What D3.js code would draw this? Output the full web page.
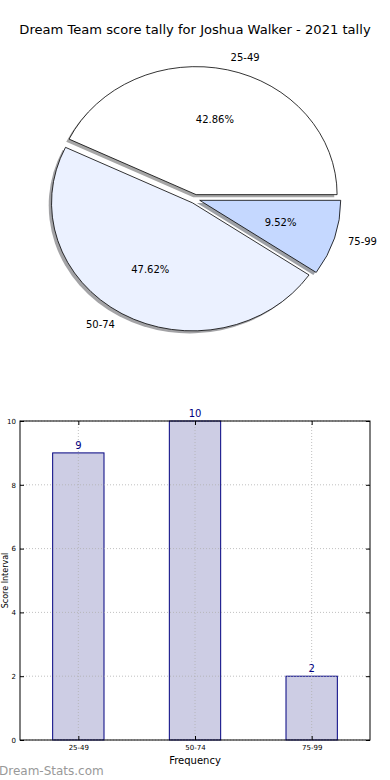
<!DOCTYPE html>
<html>
<head>
<meta charset="utf-8">
<script src="https://cdn.jsdelivr.net/npm/d3@7/dist/d3.min.js"></script>
<style>
  html, body { margin: 0; padding: 0; background: #fff; }
  svg { display: block; font-family: "DejaVu Sans", sans-serif; }
</style>
</head>
<body>
<svg id="chart" width="390" height="780"></svg>
<script>
// ---- data ----
const title = "Dream Team score tally for Joshua Walker - 2021 tally";
const categories = ["25-49", "50-74", "75-99"];
const counts = [9, 10, 2];
const sliceColors = ["#ffffff", "#ebf1ff", "#c5d8ff"];
const yTicks = [0, 2, 4, 6, 8, 10];
const xLabel = "Frequency";
const yLabel = "Score Interval";
const watermark = "Dream-Stats.com";

(function () {
const svg = d3.select("#chart");

// ---- title ----
svg.append("text").attr("x", 195).attr("y", 34).attr("text-anchor", "middle")
  .attr("font-size", 13.1).attr("fill", "#000").text(title);

// ---- pie ----
const cx = 195, cy = 199, rx = 141, ry = 128, explode = 0.035;
const R = 100;
const pie = d3.pie().sort(null).value(d => d)
  .startAngle(Math.PI / 2).endAngle(Math.PI / 2 - 2 * Math.PI);
const arcs = pie(counts);
const arc = d3.arc().innerRadius(0).outerRadius(R);
const total = d3.sum(counts);

function offset(a) {
  const m = (a.startAngle + a.endAngle) / 2;
  return [explode * rx * Math.sin(m), -explode * ry * Math.cos(m), Math.sin(m), -Math.cos(m)];
}

const gShadow = svg.append("g");
const gPie = svg.append("g");
arcs.forEach((a, i) => {
  const [ox, oy] = offset(a);
  const c = d3.rgb(sliceColors[i]);
  const sc = d3.rgb(c.r * 0.3, c.g * 0.3, c.b * 0.3);
  gShadow.append("path").attr("d", arc(a))
    .attr("transform", `translate(${cx + ox - 0.02 * rx},${cy + oy + 0.02 * ry}) scale(${rx / R},${ry / R})`)
    .attr("fill", sc).attr("fill-opacity", 0.5);
  gPie.append("path").attr("d", arc(a))
    .attr("transform", `translate(${cx + ox},${cy + oy}) scale(${rx / R},${ry / R})`)
    .attr("fill", sliceColors[i]).attr("stroke", "#000").attr("stroke-width", 0.8)
    .attr("vector-effect", "non-scaling-stroke").attr("stroke-linejoin", "round");
});
arcs.forEach((a, i) => {
  const [ox, oy, ux, uy] = offset(a);
  const px = cx + ox, py = cy + oy;
  const lx = px + 1.1 * rx * ux, ly = py + 1.1 * ry * uy;
  svg.append("text").attr("x", lx).attr("y", ly).attr("dy", "0.35em")
    .attr("text-anchor", ux > 0 ? "start" : "end").attr("font-size", 10)
    .text(categories[i]);
  svg.append("text").attr("x", px + 0.6 * rx * ux).attr("y", py + 0.6 * ry * uy).attr("dy", "0.35em")
    .attr("text-anchor", "middle").attr("font-size", 10)
    .text((a.value / total * 100).toFixed(2) + "%");
});

// ---- bar chart ----
const pl = 20, pr = 370, pt = 421, pb = 740;
const x = d3.scaleLinear().domain([-0.5, categories.length - 0.5]).range([pl, pr]);
const y = d3.scaleLinear().domain([0, 10]).range([pb, pt]);
const bw = 0.44;
const navy = "#000080";

const gBar = svg.append("g");
counts.forEach((v, i) => {
  gBar.append("rect")
    .attr("x", x(i - bw / 2)).attr("y", y(v))
    .attr("width", x(i + bw / 2) - x(i - bw / 2)).attr("height", y(0) - y(v))
    .attr("fill", "#cdcde4").attr("stroke", navy).attr("stroke-width", 1);
});

// grid
const gGrid = svg.append("g").attr("stroke", "#b0b0b0").attr("stroke-width", 0.8).attr("stroke-dasharray", "1,2");
yTicks.forEach(t => gGrid.append("line").attr("x1", pl).attr("x2", pr).attr("y1", y(t)).attr("y2", y(t)));
categories.forEach((c, i) => gGrid.append("line").attr("x1", x(i)).attr("x2", x(i)).attr("y1", pt).attr("y2", pb));

// value labels
counts.forEach((v, i) => {
  svg.append("text").attr("x", x(i)).attr("y", y(v) - 4).attr("text-anchor", "middle")
    .attr("font-size", 10).attr("fill", navy).text(v);
});

// axes with inward ticks
const yAxisL = d3.axisLeft(y).tickValues(yTicks).tickSize(-4).tickPadding(4).tickFormat(d3.format("d"));
const gy = svg.append("g").attr("transform", `translate(${pl},0)`).call(yAxisL);
gy.select(".domain").remove();
gy.selectAll("text").attr("font-size", 7).attr("font-family", "DejaVu Sans");
const yAxisR = d3.axisRight(y).tickValues(yTicks).tickSize(-4).tickFormat("");
const gyr = svg.append("g").attr("transform", `translate(${pr},0)`).call(yAxisR);
gyr.select(".domain").remove();

const xAxisB = d3.axisBottom(x).tickValues(d3.range(categories.length)).tickSize(-4).tickPadding(5)
  .tickFormat(i => categories[i]);
const gx = svg.append("g").attr("transform", `translate(0,${pb})`).call(xAxisB);
gx.select(".domain").remove();
gx.selectAll("text").attr("font-size", 7).attr("font-family", "DejaVu Sans");
const xAxisT = d3.axisTop(x).tickValues(d3.range(categories.length)).tickSize(-4).tickFormat("");
const gxt = svg.append("g").attr("transform", `translate(0,${pt})`).call(xAxisT);
gxt.select(".domain").remove();

svg.append("rect").attr("x", pl).attr("y", pt).attr("width", pr - pl).attr("height", pb - pt)
  .attr("fill", "none").attr("stroke", "#000").attr("stroke-width", 1);

svg.append("text").attr("x", (pl + pr) / 2).attr("y", 764).attr("text-anchor", "middle")
  .attr("font-size", 10).text(xLabel);
svg.append("text").attr("transform", `translate(8,${(pt + pb) / 2}) rotate(-90)`)
  .attr("text-anchor", "middle").attr("font-size", 8).text(yLabel);

svg.append("text").attr("x", -1).attr("y", 775).attr("font-size", 12)
  .attr("fill", "#999").attr("font-weight", "normal").text(watermark);
})();
</script>
</body>
</html>
